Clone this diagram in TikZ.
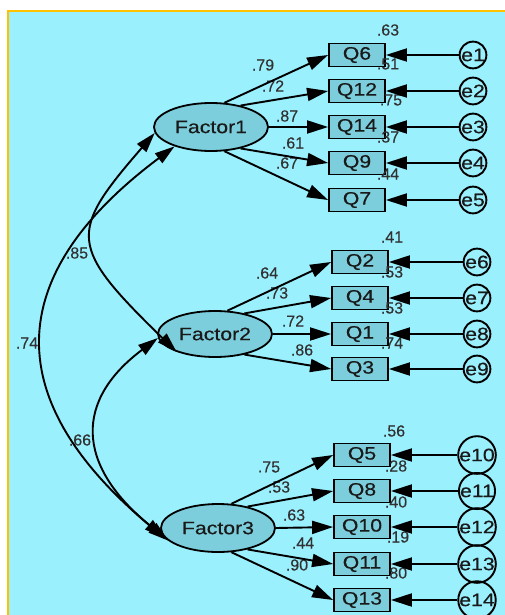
\documentclass[tikz,border=0pt]{standalone}
\usepackage{fontspec}
\setmainfont{Liberation Sans}
\newfontfamily\lblfont[FakeStretch=1.18,FakeBold=0.4]{Liberation Sans}
\newfontfamily\numfont[FakeBold=0.3]{Liberation Sans}
\usetikzlibrary{arrows.meta,shapes.geometric}
\definecolor{bgcyan}{RGB}{155,240,254}
\definecolor{nodefill}{RGB}{125,206,220}
\definecolor{frameorange}{RGB}{255,192,0}
\definecolor{numgray}{RGB}{50,50,50}
\definecolor{txtdark}{RGB}{25,25,25}
\begin{document}
\begin{tikzpicture}[x=1pt,y=-1pt,
  latent/.style={ellipse,draw,line width=1.8pt,fill=nodefill,minimum width=114pt,minimum height=48pt,inner sep=0pt,text=txtdark,font=\lblfont\fontsize{18}{18}\selectfont},
  observed/.style={rectangle,draw,line width=1.8pt,fill=nodefill,minimum width=56pt,minimum height=23pt,inner sep=0pt,text=txtdark,font=\lblfont\fontsize{18}{18}\selectfont},
  errnode/.style={circle,draw,line width=1.9pt,minimum size=25pt,inner sep=0pt,text=txtdark,font=\lblfont\fontsize{18}{18}\selectfont},
  load/.style={line width=1.9pt,-{Triangle[length=21pt,width=13pt]}},
  cov/.style={line width=1.9pt,{Triangle[length=20pt,width=12pt]}-{Triangle[length=20pt,width=12pt]}},
  num/.style={font=\numfont\fontsize{16}{16}\selectfont,text=numgray,inner sep=0pt}
]
\useasboundingbox (0,0) rectangle (505,615);
\fill[white] (0,0) rectangle (505,615);
\fill[bgcyan] (9,12) rectangle (505,615);
\draw[frameorange,line width=2.4pt] (8,615) -- (8,11) -- (505,11);

% latent factors
\node[latent] (F1) at (211,127) {Factor1};
\node[latent,minimum height=46pt] (F2) at (215,334) {Factor2};
\node[latent] (F3) at (218,528) {Factor3};

% observed
\node[observed] (Q6)  at (357,55)  {Q6};
\node[observed] (Q12) at (357,91)  {Q12};
\node[observed] (Q14) at (357,127) {Q14};
\node[observed] (Q9)  at (357,163) {Q9};
\node[observed] (Q7)  at (357,200) {Q7};
\node[observed] (Q2)  at (360,262) {Q2};
\node[observed] (Q4)  at (360,298) {Q4};
\node[observed] (Q1)  at (360,334) {Q1};
\node[observed] (Q3)  at (360,369) {Q3};
\node[observed] (Q5)  at (362,455) {Q5};
\node[observed] (Q8)  at (362,491) {Q8};
\node[observed] (Q10) at (362,527) {Q10};
\node[observed] (Q11) at (362,564) {Q11};
\node[observed] (Q13) at (362,600) {Q13};

% errors
\node[errnode] (e1)  at (473,55)  {e1};
\node[errnode] (e2)  at (473,91)  {e2};
\node[errnode] (e3)  at (473,127) {e3};
\node[errnode] (e4)  at (473,163) {e4};
\node[errnode] (e5)  at (473,200) {e5};
\node[errnode] (e6)  at (477,262) {e6};
\node[errnode] (e7)  at (477,298) {e7};
\node[errnode] (e8)  at (477,334) {e8};
\node[errnode] (e9)  at (477,369) {e9};
\node[errnode] (e10) at (477,455) {e10};
\node[errnode] (e11) at (477,491) {e11};
\node[errnode] (e12) at (477,527) {e12};
\node[errnode] (e13) at (477,564) {e13};
\node[errnode] (e14) at (477,600) {e14};

% loadings
\node[num] (n1) at (263,65) {.79};
\node[num] (n2) at (273,86) {.72};
\node[num] (n3) at (287,116) {.87};
\node[num] (n4) at (293,143) {.61};
\node[num] (n5) at (287,163) {.67};
\node[num] (n6) at (267,273) {.64};
\node[num] (n7) at (277,293) {.73};
\node[num] (n8) at (293,321) {.72};
\node[num] (n9) at (302,350) {.86};
\node[num] (n10) at (269,467) {.75};
\node[num] (n11) at (279,487) {.53};
\node[num] (n12) at (294,515) {.63};
\node[num] (n13) at (303,543) {.44};
\node[num] (n14) at (297,565) {.90};

% squared multiple correlations
\node[num] (r1) at (388,30) {.63};
\node[num] (r2) at (388,64) {.51};
\node[num] (r3) at (391,100) {.75};
\node[num] (r4) at (388,137) {.37};
\node[num] (r5) at (388,174) {.44};
\node[num] (r6) at (392,237) {.41};
\node[num] (r7) at (392,272) {.53};
\node[num] (r8) at (392,308) {.53};
\node[num] (r9) at (392,343) {.74};
\node[num] (r10) at (394,431) {.56};
\node[num] (r11) at (396,466) {.28};
\node[num] (r12) at (396,502) {.40};
\node[num] (r13) at (398,537) {.19};
\node[num] (r14) at (396,573) {.80};

% correlations labels
\node[num] (c12) at (77,253) {.85};
\node[num] (c13) at (27,343) {.74};
\node[num] (c23) at (80,440) {.66};

% factor -> indicator paths
\draw[load] (F1.61) -- (Q6.west);
\draw[load] (F1.36) -- (Q12.west);
\draw[load] (F1.0) -- (Q14.west);
\draw[load] (F1.-36) -- (Q9.west);
\draw[load] (F1.-61) -- (Q7.west);
\draw[load] (F2.62) -- (Q2.west);
\draw[load] (F2.35) -- (Q4.west);
\draw[load] (F2.0) -- (Q1.west);
\draw[load] (F2.-35) -- (Q3.west);
\draw[load] (F3.61) -- (Q5.west);
\draw[load] (F3.36) -- (Q8.west);
\draw[load] (F3.0) -- (Q10.west);
\draw[load] (F3.-36) -- (Q11.west);
\draw[load] (F3.-61) -- (Q13.west);

% error paths
\foreach \e/\q in {e1/Q6,e2/Q12,e3/Q14,e4/Q9,e5/Q7,e6/Q2,e7/Q4,e8/Q1,e9/Q3,e10/Q5,e11/Q8,e12/Q10,e13/Q11,e14/Q13}
  \draw[load] (\e.west) -- (\q.east);

% covariances
\draw[cov] (F1.186) .. controls (68,233) and (68,246) .. (F2.205);
\draw[cov] (F2.184) .. controls (75,400) and (75,464) .. (F3.190);
\draw[cov] (F1.208) .. controls (0,277) and (0,402) .. (F3.194);
\end{tikzpicture}
\end{document}
